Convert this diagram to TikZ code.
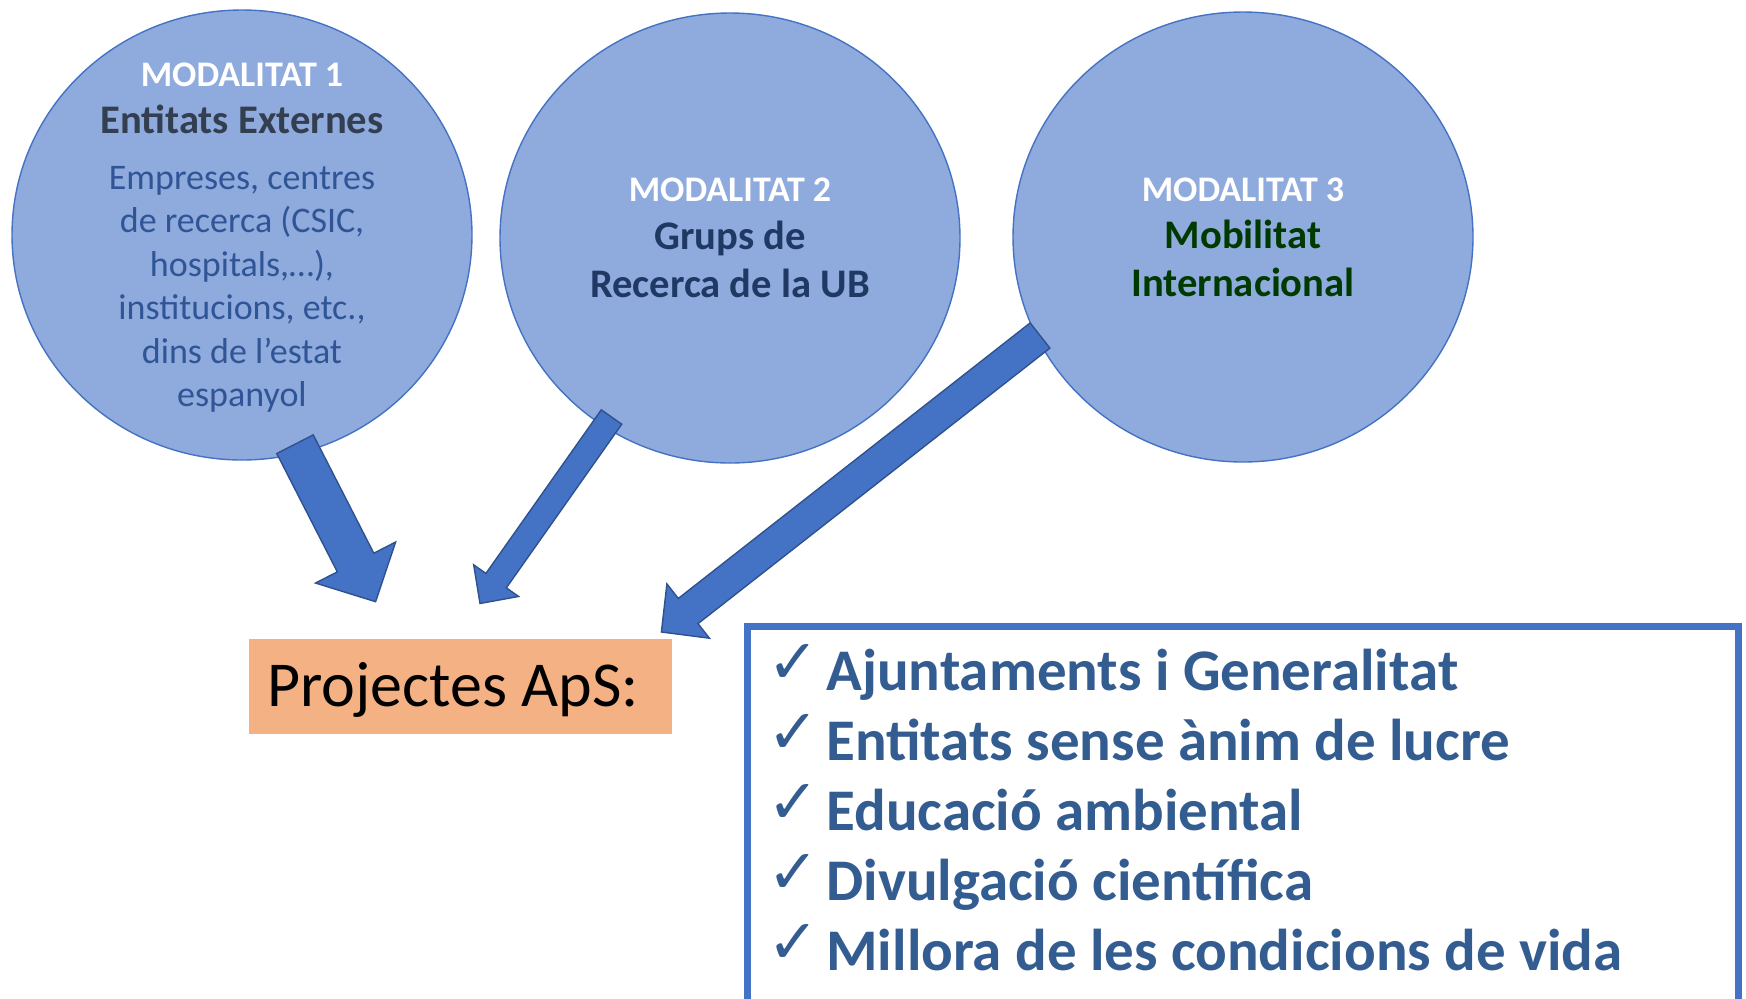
\documentclass[tikz,border=0pt]{standalone}
\usepackage{fontspec}
\setmainfont{Carlito}
\newfontfamily\dejavu{DejaVu Sans}
\usetikzlibrary{calc,shapes.geometric}

\definecolor{circfill}{HTML}{8FAADC}
\definecolor{accent}{HTML}{4472C4}
\definecolor{accentdark}{HTML}{2F528F}
\definecolor{slate}{HTML}{333F50}
\definecolor{bodyblue}{HTML}{2F5597}
\definecolor{navy}{HTML}{1F3864}
\definecolor{darkgreen}{HTML}{003A00}
\definecolor{apsorange}{HTML}{F4B183}
\definecolor{listblue}{HTML}{335C91}

\tikzset{
  modcircle/.style={ellipse,fill=circfill,draw=accent,line width=0.7pt,minimum width=230pt,minimum height=225pt,inner sep=0pt},
  modlabel/.style={anchor=base,inner sep=0pt,text=white,font=\fontsize{18}{21}\selectfont\bfseries},
  modtitle/.style={anchor=base,inner sep=0pt,font=\fontsize{20.3}{24}\selectfont\bfseries},
  modbody/.style={anchor=base,inner sep=0pt,text=bodyblue,font=\fontsize{18}{21.75}\selectfont},
  bigarr/.style={fill=accent,draw=accentdark,line width=0.7pt,line join=miter},
  projbox/.style={fill=apsorange,inner xsep=9pt,inner ysep=0pt,text height=33.7pt,text depth=13.8pt,font=\fontsize{32}{36}\selectfont},
  listitem/.style={anchor=base west,inner sep=0pt,text=listblue,font=\fontsize{29.5}{34}\selectfont\bfseries},
  checkmk/.style={anchor=base west,inner sep=0pt,text=listblue,font=\dejavu\fontsize{31}{31}\selectfont}
}

% block arrow: tail, tip, half shaft, half head, head length
\newcommand\bigarrow[5]{%
  \draw[bigarr] ($(#1)!#3!90:(#2)$)
    -- ($(#2)!#5!(#1)!#3!-90:(#1)$)
    -- ($(#2)!#5!(#1)!#4!-90:(#1)$)
    -- (#2)
    -- ($(#2)!#5!(#1)!#4!90:(#1)$)
    -- ($(#2)!#5!(#1)!#3!90:(#1)$)
    -- ($(#1)!#3!-90:(#2)$) -- cycle;}

\begin{document}
\begin{tikzpicture}[x=0.5pt,y=-0.5pt]
  \useasboundingbox (0,0) rectangle (1746,998);
  \clip (0,0) rectangle (1746,998);

  % the three modalities
  \node[modcircle] (mod1) at (242,235) {};
  \node[modcircle] (mod2) at (730,238) {};
  \node[modcircle] (mod3) at (1243,237) {};

  \node[modlabel] (m1lab) at (242,86) {MODALITAT 1};
  \node[modtitle,text=slate] (m1tit) at (242,133.3) {Entitats Externes};
  \foreach \txt [count=\i from 0] in {{Empreses, centres},{de recerca (CSIC,},{hospitals,…),},{institucions, etc.,},{dins de l’estat},{espanyol}}
    \node[modbody] (m1b\i) at (242,189.3+43.5*\i) {\txt};

  \node[modlabel] (m2lab) at (730,201.5) {MODALITAT 2};
  \node[modtitle,text=navy] (m2tit) at (730,249.3) {Grups de};
  \node[modtitle,text=navy] (m2tit2) at (730,297.3) {Recerca de la UB};

  \node[modlabel] (m3lab) at (1243,201) {MODALITAT 3};
  \node[modtitle,text=darkgreen] (m3tit) at (1243,248.3) {Mobilitat};
  \node[modtitle,text=darkgreen] (m3tit2) at (1243,296) {Internacional};

  % arrows
  \coordinate (t1) at (295,444.2);  \coordinate (h1) at (375.6,601.7);
  \coordinate (t2) at (611.5,417);  \coordinate (h2) at (480,603.5);
  \coordinate (t3) at (1040,335.5); \coordinate (h3) at (661.4,632);
  \bigarrow{t1}{h1}{10.25pt}{22.5pt}{22pt}
  \bigarrow{t2}{h2}{6.25pt}{13.75pt}{14pt}
  \bigarrow{t3}{h3}{8pt}{17.25pt}{17pt}

  \node[projbox] (aps) at (460.25,686.8) {\makebox[193.25pt][l]{Projectes ApS:}};

  % list
  \draw[accent,line width=3.35pt] (747.5,1010) |- (1738.3,626.7) -- (1738.3,1010);
  \foreach \txt [count=\i from 0] in {Ajuntaments i Generalitat,Entitats sense ànim de lucre,Educació ambiental,Divulgació científica,Millora de les condicions de vida} {
    \node[checkmk] (ck\i) at (767,683+70*\i) {✓};
    \node[listitem] (it\i) at (826,690+70*\i) {\txt};
  }
\end{tikzpicture}
\end{document}
